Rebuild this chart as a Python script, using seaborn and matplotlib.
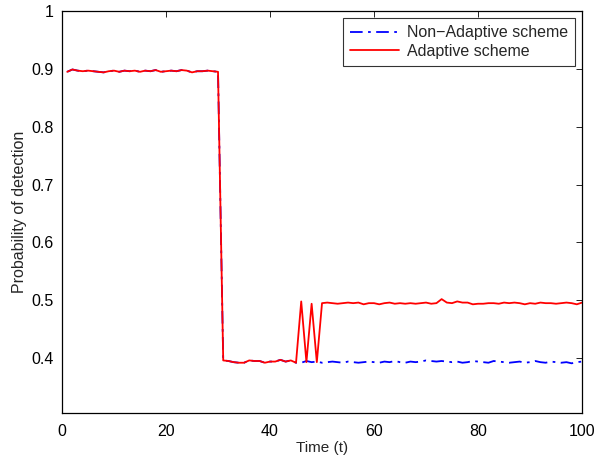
import numpy as np
import pandas as pd
import seaborn as sns
import matplotlib
matplotlib.use("Agg")
import matplotlib.pyplot as plt

# ---- data ----
time_t = list(range(1, 101))

common_start = [0.895, 0.899, 0.897, 0.896, 0.897, 0.896, 0.895, 0.894, 0.896, 0.897,
                0.895, 0.897, 0.896, 0.897, 0.895, 0.897, 0.896, 0.898, 0.895, 0.896,
                0.897, 0.896, 0.898, 0.897, 0.894, 0.896, 0.896, 0.897, 0.896, 0.895,
                0.396, 0.395, 0.393, 0.392, 0.392, 0.396, 0.395, 0.395, 0.392, 0.394,
                0.394, 0.397, 0.394, 0.396, 0.392]

adaptive_tail = [0.498, 0.393, 0.494, 0.393, 0.495,
                 0.496, 0.495, 0.494, 0.495, 0.496, 0.495, 0.496, 0.493, 0.495, 0.495,
                 0.493, 0.495, 0.496, 0.494, 0.495, 0.494, 0.495, 0.494, 0.495, 0.496,
                 0.494, 0.495, 0.502, 0.496, 0.495, 0.498, 0.496, 0.496, 0.493, 0.494,
                 0.494, 0.495, 0.495, 0.494, 0.496, 0.495, 0.496, 0.495, 0.493, 0.495,
                 0.494, 0.496, 0.495, 0.495, 0.494, 0.495, 0.496, 0.495, 0.493, 0.496]

nonadaptive_tail = [0.392, 0.395, 0.393, 0.394, 0.392,
                    0.393, 0.394, 0.393, 0.392, 0.394, 0.393, 0.392, 0.393, 0.394, 0.393,
                    0.392, 0.394, 0.393, 0.395, 0.393, 0.392, 0.394, 0.393, 0.394, 0.396,
                    0.395, 0.394, 0.395, 0.394, 0.393, 0.394, 0.392, 0.393, 0.395, 0.394,
                    0.393, 0.392, 0.395, 0.394, 0.393, 0.392, 0.393, 0.394, 0.392, 0.393,
                    0.395, 0.393, 0.392, 0.394, 0.393, 0.392, 0.393, 0.391, 0.393, 0.394]

non_adaptive = common_start + nonadaptive_tail
adaptive = common_start + adaptive_tail

series_names = ["Non\u2212Adaptive scheme", "Adaptive scheme"]
x_ticks = [0, 20, 40, 60, 80, 100]
y_ticks = [0.4, 0.5, 0.6, 0.7, 0.8, 0.9, 1.0]
y_tick_labels = ["0.4", "0.5", "0.6", "0.7", "0.8", "0.9", "1"]

# ---- plot ----
sns.set_style("white")
plt.rcParams["font.family"] = ["Liberation Sans", "DejaVu Sans"]

fig = plt.figure(figsize=(5.98, 4.61), dpi=100)
ax = fig.add_axes([0.1037, 0.104, 0.8696, 0.872])

df = pd.DataFrame({"t": time_t, "na": non_adaptive, "ad": adaptive})
sns.lineplot(data=df, x="t", y="na", ax=ax, color=(0, 0, 1), linewidth=1.3,
             linestyle=(0, (7, 3, 1.5, 3)), label=series_names[0])
sns.lineplot(data=df, x="t", y="ad", ax=ax, color=(1, 0, 0), linewidth=1.3,
             label=series_names[1])

ax.set_xlim(0, 100)
ax.set_ylim(0.305, 1.0)
ax.set_xticks(x_ticks)
ax.set_yticks(y_ticks)
ax.set_yticklabels(y_tick_labels)
ax.set_xlabel("Time (t)", fontsize=11, labelpad=1)
ax.set_ylabel("Probability of detection", fontsize=11.5, labelpad=3)
ax.tick_params(direction="in", length=4, width=0.6, labelsize=11.5, colors="black",
               top=True, right=True, pad=6)
ax.tick_params(axis="x", pad=8)
for s in ax.spines.values():
    s.set_color("black")
    s.set_linewidth(0.9)

leg = ax.legend(loc="upper right", fontsize=11.5, handlelength=3.1, frameon=True,
                fancybox=False, borderaxespad=0.45, borderpad=0.45, labelspacing=0.2,
                handletextpad=0.45)
leg.get_frame().set_edgecolor("black")
leg.get_frame().set_linewidth(0.8)

fig.savefig("out.png", dpi=100)
